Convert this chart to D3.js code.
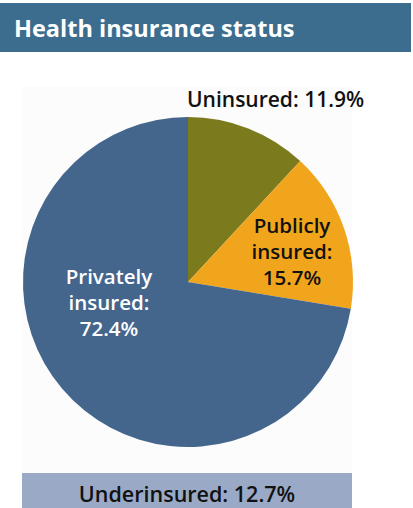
<!DOCTYPE html>
<html>
<head>
<meta charset="utf-8">
<script src="https://cdnjs.cloudflare.com/ajax/libs/d3/7.8.5/d3.min.js"></script>
<style>
  body { margin: 0; background: #fff; }
  svg { display: block; font-family: "Open Sans", "Noto Sans", sans-serif; }
</style>
</head>
<body>
<div id="chart"></div>
<script>
// data
var categories = ['Uninsured', 'Publicly insured', 'Privately insured'];
var shares = [11.9, 15.7, 72.4];
var sliceColors = ['#7b7a1c', '#f1a51d', '#44668d'];
var underLabel = 'Underinsured';
var underShare = 12.7;

var width = 413, height = 508;
var cx = 188, cy = 282, radius = 165;

var svg = d3.select('#chart')
    .append('svg')
    .attr('width', width)
    .attr('height', height);

// title bar
svg.append('rect')
    .attr('x', 0).attr('y', 3)
    .attr('width', 411).attr('height', 49)
    .style('fill', '#3c6d8e');
svg.append('text')
    .attr('x', 14).attr('y', 37)
    .style('font-size', '23.5px')
    .style('font-weight', 'bold')
    .style('fill', '#fff')
    .text('Health insurance status');

// faint panel behind the chart
svg.append('rect')
    .attr('x', 22).attr('y', 87)
    .attr('width', 330).attr('height', 386)
    .style('fill', '#fcfcfc');

var pie = d3.pie().sort(null).value(function(d) { return d; });
var arc = d3.arc().innerRadius(0).outerRadius(radius);

var g = svg.append('g').attr('transform', 'translate(' + cx + ',' + cy + ')');
g.selectAll('path')
    .data(pie(shares))
    .enter().append('path')
        .attr('d', arc)
        .style('fill', function(d, i) { return sliceColors[i]; });

// slice labels
function lines(sel, x, y, arr, color, step) {
    var t = sel.append('text')
        .attr('text-anchor', 'middle')
        .style('font-size', '20.5px')
        .style('font-weight', 600)
        .style('fill', color);
    arr.forEach(function(s, i) {
        t.append('tspan').attr('x', x).attr('y', y + i * step).text(s);
    });
    return t;
}

svg.append('text')
    .attr('x', 187).attr('y', 107)
    .style('font-size', '21px')
    .style('font-weight', 600)
    .style('fill', '#111')
    .text(categories[0] + ': ' + shares[0].toFixed(1) + '%');

lines(svg, 292, 233, ['Publicly', 'insured:', shares[1].toFixed(1) + '%'], '#111', 26);
lines(svg, 109, 284, ['Privately', 'insured:', shares[2].toFixed(1) + '%'], '#fff', 26);

// underinsured bar
svg.append('rect')
    .attr('x', 22).attr('y', 473)
    .attr('width', 330).attr('height', 35)
    .style('fill', '#9aaac6');
svg.append('text')
    .attr('x', 187).attr('y', 502)
    .attr('text-anchor', 'middle')
    .style('font-size', '21.5px')
    .style('font-weight', 600)
    .style('fill', '#111')
    .text(underLabel + ': ' + underShare.toFixed(1) + '%');
</script>
</body>
</html>
